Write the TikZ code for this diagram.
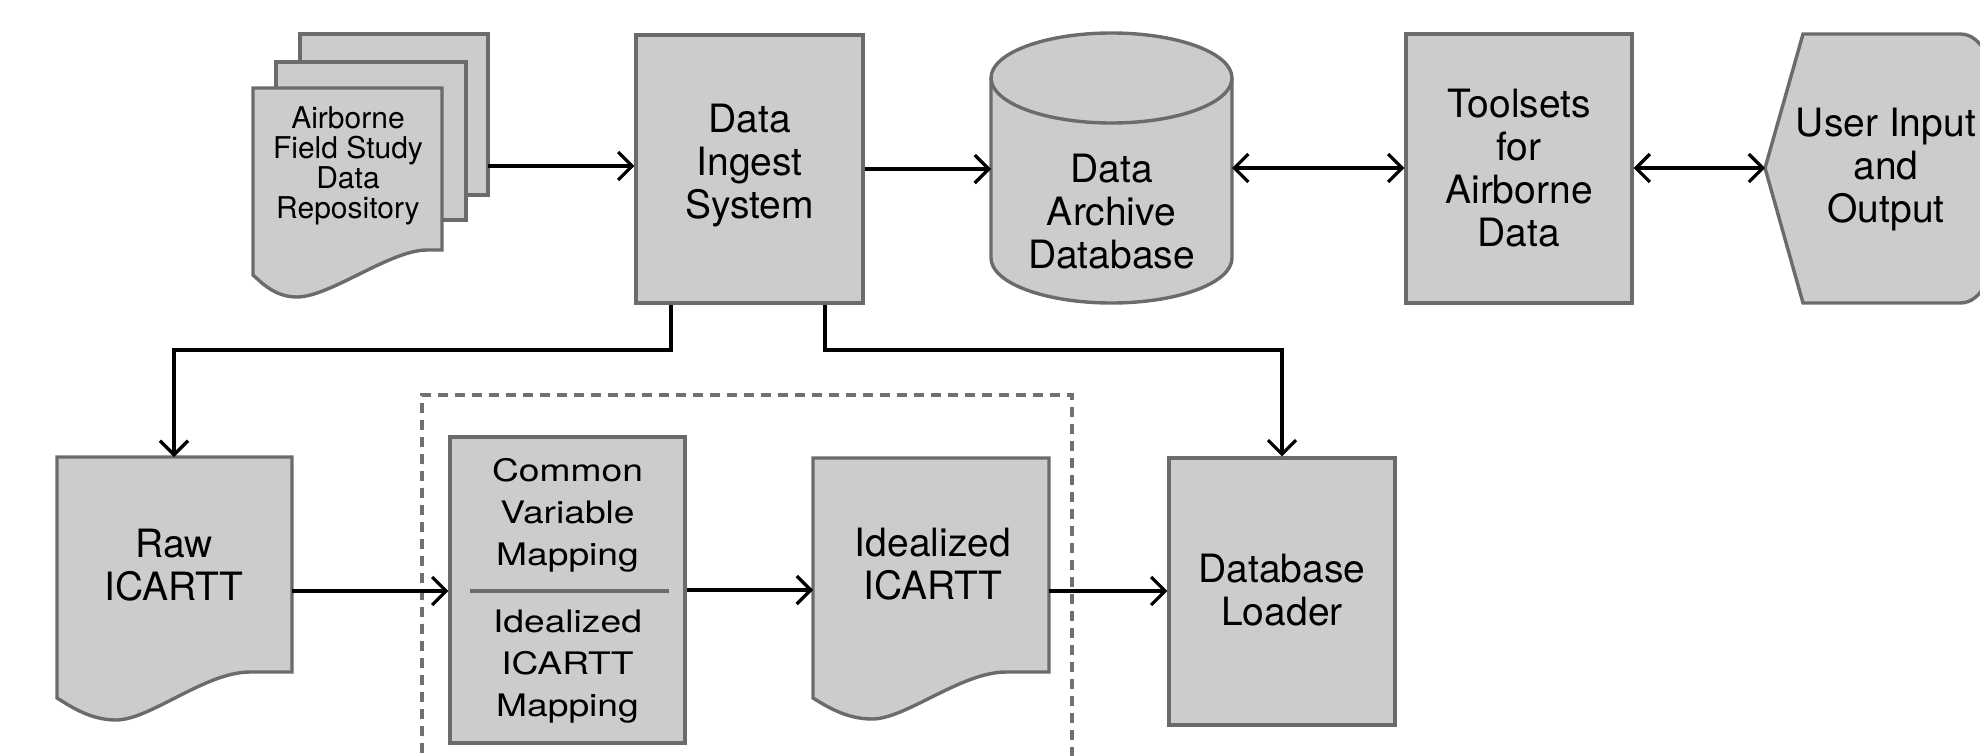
\documentclass[tikz,border=0pt]{standalone}
\usepackage{fontspec}
\setmainfont{TeX Gyre Heros}
\newfontfamily\widefont[FakeStretch=1.2]{TeX Gyre Heros}
\usetikzlibrary{arrows.meta,calc}
\definecolor{boxfill}{HTML}{CCCCCC}
\definecolor{boxline}{HTML}{6B6B6B}
\definecolor{dashline}{HTML}{707070}
\begin{document}
\begin{tikzpicture}[x=0.5pt,y=-0.5pt,
  shp/.style={draw=boxline, fill=boxfill, line width=1.7pt, line join=miter},
  box/.style={shp, inner sep=0pt},
  lbl/.style={align=center, inner sep=0pt, font=\fontsize{19.5}{21.5}\selectfont},
  smalllbl/.style={align=center, inner sep=0pt, font=\fontsize{15}{15}\selectfont},
  cvmlbl/.style={align=center, inner sep=0pt, font=\widefont\fontsize{15.5}{21}\selectfont},
  arr/.style={line width=1.6pt, -{Straight Barb[length=7pt,width=14pt]}},
  darr/.style={line width=1.6pt, {Straight Barb[length=7pt,width=14pt]}-{Straight Barb[length=7pt,width=14pt]}},
  dashedbox/.style={draw=dashline, line width=1.6pt, dash pattern=on 5pt off 3.5pt},
]
\useasboundingbox (0,0) rectangle (1980,755);
\clip (0,0) rectangle (1980,755);

% ---------- repository (stack of documents)
\draw[shp] (300,34) rectangle (488,195);
\draw[shp] (276,62) rectangle (466,220);
\draw[shp] (253,88) -- (442,88) -- (442,250) -- (427,250)
  .. controls (390,250) and (330,297) .. (297,297)
  .. controls (275,297) and (262,283) .. (253,275) -- cycle;
\node[smalllbl] (repo) at (348,166) {Airborne\\Field Study\\Data\\Repository};
\coordinate (repoOut) at (488,166);

% ---------- Data Ingest System
\node[box, minimum width=113.5pt, minimum height=134pt] (dis) at (749.5,169) {};
\node[lbl] (disT) at (749.5,166) {Data\\Ingest\\System};

% ---------- Data Archive Database (cylinder)
\draw[shp] (991,78) -- (991,258)
  arc[start angle=180, end angle=360, x radius=60.25pt, y radius=22.5pt]
  -- (1232,78)
  arc[start angle=0, end angle=180, x radius=60.25pt, y radius=22.5pt] -- cycle;
\draw[draw=boxline, line width=1.7pt] (991,78)
  arc[start angle=180, end angle=360, x radius=60.25pt, y radius=22.5pt];
\node[lbl] (cyl) at (1111.5,212) {Data\\Archive\\Database};
\coordinate (cylW) at (991,168);
\coordinate (cylE) at (1232,168);

% ---------- Toolsets
\node[box, minimum width=113pt, minimum height=134.5pt] (tool) at (1519,168.5) {};
\node[lbl] (toolT) at (1519,168) {Toolsets\\for\\Airborne\\Data};

% ---------- User Input and Output (display shape)
\draw[shp] (1765,168) -- (1803,34) -- (1960,34)
  .. controls (1972,34) and (1980,42) .. (1988,56) -- (1988,281)
  .. controls (1980,295) and (1972,303) .. (1960,303) -- (1803,303) -- cycle;
\node[lbl] (user) at (1886,170) {User Input\\and\\Output};
\coordinate (userW) at (1765,168);

% ---------- dashed group
\draw[dashedbox] (422,770) -- (422,395) -- (1072,395) -- (1072,770);

% ---------- Raw ICARTT (document)
\draw[shp] (57,457) -- (292,457) -- (292,672) -- (250,672)
  .. controls (205,672) and (150,720) .. (116,720)
  .. controls (90,720) and (70,706) .. (57,698) -- cycle;
\node[lbl] (raw) at (174,565) {Raw\\ICARTT};
\coordinate (rawN) at (174,457);
\coordinate (rawE) at (292,591);

% ---------- mapping box
\node[box, minimum width=117.5pt, minimum height=153pt] (cvm) at (567.5,590) {};
\draw[draw=boxline, line width=1.7pt] ($(cvm.west)+(22,1)$) -- ($(cvm.east)+(-18,1)$);
\node[cvmlbl] (cvmTop) at (567.5,515) {Common\\Variable\\Mapping};
\node[cvmlbl] (cvmBot) at (567.5,667) {Idealized\\ICARTT\\Mapping};

% ---------- Idealized ICARTT (document)
\draw[shp] (813,458) -- (1049,458) -- (1049,672) -- (1006,672)
  .. controls (961,672) and (906,719) .. (872,719)
  .. controls (846,719) and (826,706) .. (813,698) -- cycle;
\node[lbl] (ideal) at (933,564) {Idealized\\ICARTT};
\coordinate (idW) at (813,591);
\coordinate (idE) at (1049,591);

% ---------- Database Loader
\node[box, minimum width=113pt, minimum height=133.5pt] (dbl) at (1282,591.5) {};
\node[lbl] (dblT) at (1282,590) {Database\\Loader};

% ---------- connectors
\coordinate (busY) at (0,350);
\coordinate (disL) at ($(dis.south)+(-78.5,0)$);
\coordinate (disR) at ($(dis.south)+(75.5,0)$);

\draw[arr] (repoOut) -- (repoOut -| dis.west);
\draw[arr] (dis.east) -- (dis.east -| cylW);
\draw[darr] (cylE) -- (cylE -| tool.west);
\draw[darr] (cylE -| tool.east) -- (userW);
\draw[arr] (disL) -- (disL |- busY) -- (rawN |- busY) -- (rawN);
\draw[arr] (disR) -- (disR |- busY) -- (dbl.north |- busY) -- (dbl.north);
\draw[arr] (rawE) -- (rawE -| cvm.west);
\draw[arr] (cvm.east) -- (cvm.east -| idW);
\draw[arr] (idE) -- (idE -| dbl.west);
\end{tikzpicture}
\end{document}
